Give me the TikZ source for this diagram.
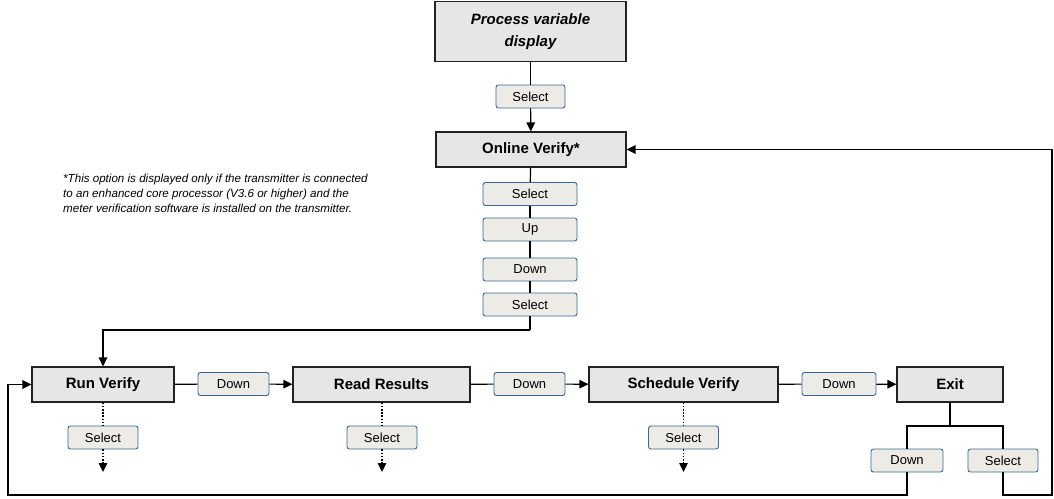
\documentclass[tikz,border=0pt]{standalone}
\usepackage{fontspec}
\setmainfont{Liberation Sans}
\usetikzlibrary{arrows.meta}
\definecolor{boxfill}{HTML}{E6E6E6}
\definecolor{boxline}{HTML}{222222}
\definecolor{btnfill}{HTML}{EDEBE6}
\definecolor{btnline}{HTML}{3A6796}
\tikzset{
  menubox/.style={draw=boxline, fill=boxfill, line width=1.1pt, inner sep=0pt,
    font=\fontsize{15}{17}\selectfont\bfseries, align=center},
  btn/.style={draw=btnline, fill=btnfill, line width=0.9pt, rounded corners=2.5pt,
    inner sep=0pt, minimum height=23pt, font=\fontsize{13}{15}\selectfont},
  conn/.style={line width=1.2pt, black},
  arr/.style={conn, -{Triangle[length=9pt,width=8.5pt]}},
  dotc/.style={conn, dash pattern=on 1.6pt off 1.6pt}
}
\begin{document}
\begin{tikzpicture}[x=1pt,y=-1pt]
\useasboundingbox (0,0) rectangle (1054,498);
% top column
\node[menubox, minimum width=191pt, minimum height=60pt, font=\fontsize{15}{22}\selectfont\bfseries\itshape] (pvd) at (530.5,31.5) {Process variable\\display};
\node[btn, minimum width=69pt] (pvdsel) at (530.5,96.5) {Select};
\node[menubox, minimum width=190pt, minimum height=35pt] (ov) at (531,149.5) {Online Verify*};
\node[btn, minimum width=94pt] (s1) at (530,194) {Select};
\node[btn, minimum width=94pt] (up) at (530,229.5) {Up};
\node[btn, minimum width=94pt] (dn) at (530,269.5) {Down};
\node[btn, minimum width=94pt] (s2) at (530,304.5) {Select};
% footnote
\node[anchor=north west, inner sep=0pt, align=left, font=\fontsize{11.6}{14.8}\selectfont\itshape] (note) at (63,174)
 {*This option is displayed only if the transmitter is connected\\to an enhanced core processor (V3.6 or higher) and the\\meter verification software is installed on the transmitter.};
% row
\node[menubox, minimum width=142pt, minimum height=35pt] (rv) at (103,384.5) {Run Verify};
\node[btn, minimum width=71pt] (d1) at (233.5,384) {Down};
\node[menubox, minimum width=177pt, minimum height=35pt] (rr) at (381.5,384.5) {Read Results};
\node[btn, minimum width=71pt] (d2) at (529.5,384) {Down};
\node[menubox, minimum width=189pt, minimum height=35pt] (sv) at (683.5,384.5) {Schedule Verify};
\node[btn, minimum width=74pt] (d3) at (839,384) {Down};
\node[menubox, minimum width=106pt, minimum height=35pt] (ex) at (950,384.5) {Exit};
% selects under
\node[btn, minimum width=70pt] (rvs) at (103,437.5) {Select};
\node[btn, minimum width=70pt] (rrs) at (382,437.5) {Select};
\node[btn, minimum width=70pt] (svs) at (683.5,437.5) {Select};
\node[btn, minimum width=72pt] (exd) at (907,460.5) {Down};
\node[btn, minimum width=70pt] (exs) at (1003,460.5) {Select};
% coordinates
\coordinate (rvt) at (103,472);
\coordinate (rrt) at (382,472);
\coordinate (svt) at (683.5,472);
\coordinate (exj) at (950,426);
\coordinate (bl) at (8,495);
\coordinate (br) at (1052,495);
\coordinate (bend) at (530,330);
% connectors
\draw[conn] (pvd) -- (pvdsel);
\draw[arr] (pvdsel) -- (ov);
\draw[conn] (ov) -- (s1);
\draw[conn] (s1) -- (up);
\draw[conn] (up) -- (dn);
\draw[conn] (dn) -- (s2);
\draw[conn] (s2) -- (bend);
\draw[arr] (bend) -| (rv.north);
\draw[conn] (rv) -- (d1);
\draw[arr] (d1) -- (rr);
\draw[conn] (rr) -- (d2);
\draw[arr] (d2) -- (sv);
\draw[conn] (sv) -- (d3);
\draw[arr] (d3) -- (ex);
\draw[dotc] (rv.south) -- (rvs.north);
\draw[dotc, -{Triangle[length=9pt,width=8.5pt]}] (rvs.south) -- (rvt);
\draw[dotc] (rr.south -| rrs.north) -- (rrs.north);
\draw[dotc, -{Triangle[length=9pt,width=8.5pt]}] (rrs.south) -- (rrt);
\draw[dotc] (sv.south) -- (svs.north);
\draw[dotc, -{Triangle[length=9pt,width=8.5pt]}] (svs.south) -- (svt);
\draw[conn] (ex.south) -- (exj);
\draw[conn] (exd.north) -- (exd.north |- exj) -- (exs.north |- exj) -- (exs.north);
\draw[arr] (exd.south) |- (bl) |- (rv.west);
\draw[arr] (exs.south) |- (br) |- (ov.east);
\end{tikzpicture}
\end{document}
